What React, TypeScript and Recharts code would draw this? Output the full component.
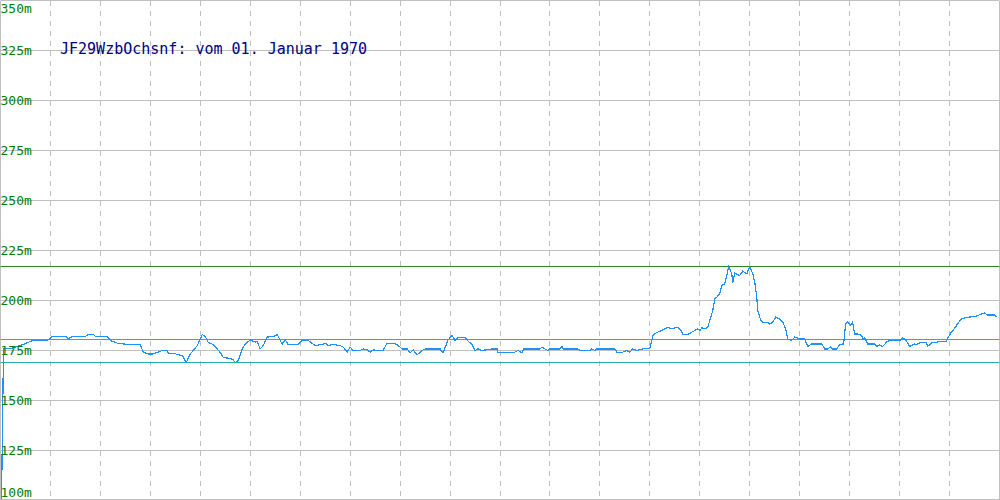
import { LineChart, Line, XAxis, YAxis, CartesianGrid, ReferenceLine, Customized } from 'recharts';

document.body.style.margin = '0';

// distance along track (x) and altitude in metres (y)
const dist = [
  1, 2, 3, 10, 20, 25, 32, 47, 52, 65, 68, 72, 85, 88, 93, 95, 107, 110, 117, 127,
  140, 143, 148, 153, 157, 162, 167, 168, 173, 177, 182, 186, 190, 197, 202, 205, 208, 213, 220, 223,
  230, 233, 235, 238, 242, 245, 250, 255, 257, 260, 263, 267, 273, 277, 280, 282, 285, 288, 298, 302,
  308, 315, 322, 325, 328, 333, 340, 343, 347, 350, 353, 360, 363, 367, 370, 373, 377, 383, 387, 393,
  397, 402, 407, 410, 413, 417, 422, 425, 440, 443, 448, 452, 455, 458, 465, 468, 472, 475, 478, 482,
  492, 497, 498, 515, 518, 522, 524, 540, 542, 545, 548, 550, 560, 562, 563, 578, 580, 590, 592, 595,
  597, 615, 617, 623, 627, 630, 633, 637, 645, 650, 653, 657, 662, 668, 672, 677, 680, 682, 683, 688,
  692, 695, 698, 700, 702, 705, 708, 710, 713, 715, 717, 720, 722, 725, 727, 729, 732, 733, 735, 740,
  743, 747, 750, 753, 755, 757, 758, 761, 763, 768, 770, 773, 776, 780, 783, 786, 788, 792, 795, 800,
  805, 808, 812, 822, 825, 828, 831, 833, 837, 840, 844, 846, 848, 851, 853, 855, 858, 862, 863, 865,
  868, 875, 877, 880, 883, 887, 890, 900, 903, 906, 910, 915, 917, 922, 927, 928, 933, 938, 940, 947,
  948, 952, 955, 958, 962, 970, 977, 982, 985, 988, 995, 997,
];
const alt = [
  100, 137.5, 176, 176, 177.5, 178.5, 180, 180, 182, 182, 181, 182, 182, 183, 183, 182, 182, 180, 178.7, 178,
  178, 174, 173.3, 173.3, 174, 175, 175, 173.7, 173.7, 173, 172.5, 169, 173.3, 177.5, 183, 182, 179, 178, 174, 171.5,
  171, 170.3, 169, 170, 175.8, 178.3, 180.3, 179.2, 179.5, 175.8, 177.5, 181.7, 182, 183, 180, 178.3, 180.3, 178, 178, 180,
  180, 177.5, 178, 178.7, 177.5, 178, 177.5, 176.7, 174.2, 176.7, 175, 175, 175.8, 175.3, 174.2, 175.3, 175, 175, 178.7, 178.7,
  178, 175.8, 175.8, 173.8, 175.3, 172.8, 175, 175.8, 175.8, 173.8, 180.3, 182.5, 180, 181.7, 181.7, 179.7, 178, 175, 175.8, 175,
  175.8, 175.8, 174.2, 174.2, 175, 173.8, 175.8, 175.8, 176.7, 175.8, 175, 175.8, 175.8, 177, 175.8, 175.8, 175, 175, 175.8, 175,
  175.8, 175.8, 174.2, 174.2, 175, 174.2, 175.8, 175, 176, 176, 182.5, 184, 185, 186.7, 185.8, 186.7, 185.8, 184.2, 183, 183,
  184.2, 185, 185.8, 185, 186.3, 185.8, 186.7, 190, 195, 200.8, 201.7, 203.3, 207.5, 208.3, 212.5, 217, 213.3, 209, 213.7, 212.5,
  214.7, 213.3, 217, 213.3, 209.2, 201.7, 195, 190, 189.2, 189.2, 188.3, 189.2, 191.7, 190.8, 189.2, 185.8, 180.8, 180, 181.7, 180.8,
  180.8, 177, 178.3, 178.3, 175.8, 175.8, 176.7, 175.8, 175.8, 178, 178.3, 188.3, 189.2, 187.5, 189.2, 183.3, 183.3, 182.5, 180.8, 181.2,
  178.3, 178.3, 177, 177.7, 177, 179.2, 180, 180, 181.2, 180.5, 177, 178.3, 178, 179.2, 179.2, 177, 179.2, 179.2, 179.7, 179.7,
  181, 184.3, 186, 188.3, 191, 191.7, 192.2, 193.3, 193.8, 192.8, 192.8, 191.7,
];

const yTicks = [100, 125, 150, 175, 200, 225, 250, 275, 300, 325, 350];
const xTicks = [50, 100, 150, 200, 250, 300, 350, 400, 450, 500, 550, 600, 650, 700, 750, 800, 850, 900, 950];
const refMax = 217;
const refAvg = 180.5;
const refMin = 169;
const title = 'JF29WzbOchsnf: vom 01. Januar 1970';

const data = dist.map((d, i) => ({ d, v: alt[i] }));

const MONO = '"DejaVu Sans Mono", "Liberation Mono", monospace';

function YTick(props: any) {
  const { y, payload } = props;
  let ty = y + 4.5;
  if (ty < 13) ty = 13;
  if (ty > 497) ty = 497;
  return (
    <text x={0.5} y={ty} fill="#008000" fontSize={13} fontFamily={MONO} textAnchor="start">
      {payload.value}m
    </text>
  );
}

export default function App() {
  return (
    <div
      style={{
        width: 1000,
        height: 500,
        background: '#fff',
        overflow: 'hidden',
        boxSizing: 'border-box',
        borderBottom: '1px solid #c0c0c0',
      }}
    >
      {/* 501 tall so the y scale is exactly 2px per metre; bottom row is clipped */}
      <LineChart width={1000} height={501} data={data} margin={{ top: 0.5, left: 0.5, right: 0.5, bottom: 0.5 }}>
        <XAxis dataKey="d" type="number" domain={[0, 1000]} ticks={xTicks} hide />
        <YAxis
          type="number"
          domain={[100, 350]}
          ticks={yTicks}
          orientation="left"
          mirror
          width={40}
          axisLine={false}
          tickLine={false}
          tick={(p: any) => <YTick {...p} />}
          allowDataOverflow
          interval={0}
        />
        <CartesianGrid vertical={false} stroke="#c0c0c0" />
        <CartesianGrid horizontal={false} stroke="#c0c0c0" strokeDasharray="5 5" shapeRendering="crispEdges" />
        <ReferenceLine x={0} stroke="#c0c0c0" shapeRendering="crispEdges" />
        <ReferenceLine x={1000} stroke="#c0c0c0" shapeRendering="crispEdges" />
        <ReferenceLine y={refMax} stroke="#228b22" />
        <ReferenceLine y={refAvg} stroke="#3cb371" />
        <ReferenceLine y={refMin} stroke="#20b2aa" />
        <Line
          dataKey="v"
          type="linear"
          stroke="#1e90ff"
          strokeWidth={1.2}
          dot={false}
          activeDot={false}
          isAnimationActive={false}
          shapeRendering="crispEdges"
        />
        <Customized
          component={() => (
            <text x={60} y={54} fill="#000080" fontSize={15} fontFamily={MONO}>
              {title}
            </text>
          )}
        />
      </LineChart>
    </div>
  );
}
